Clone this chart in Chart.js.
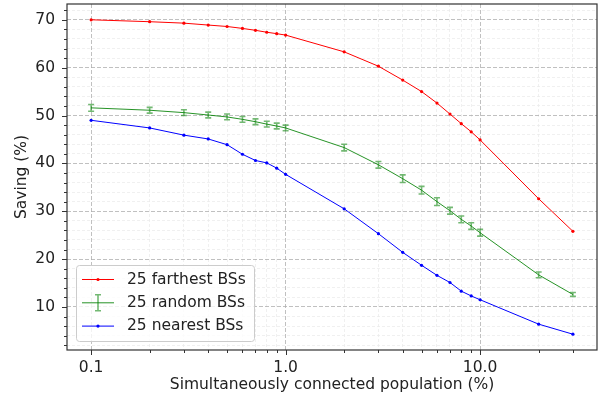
<!DOCTYPE html>
<html>
<head>
<meta charset="utf-8">
<script src="https://cdn.jsdelivr.net/npm/chart.js@4/dist/chart.umd.min.js"></script>
<style>
  body { margin: 0; background: #fff; }
  canvas { display: block; }
</style>
</head>
<body>
<canvas id="savingCanvas" width="601" height="404"></canvas>
<script>
// x values (% of population), log scale
const population = [0.1, 0.2, 0.3, 0.4, 0.5, 0.6, 0.7, 0.8, 0.9, 1, 2, 3, 4, 5, 6, 7, 8, 9, 10, 20, 30];
const farthest = [70.0, 69.6, 69.3, 68.9, 68.6, 68.2, 67.8, 67.4, 67.1, 66.8, 63.3, 60.3, 57.4, 55.0, 52.6, 50.3, 48.3, 46.6, 44.9, 32.6, 25.8];
const random = [51.6, 51.1, 50.6, 50.1, 49.7, 49.2, 48.7, 48.2, 47.8, 47.4, 43.3, 39.7, 36.8, 34.4, 32.0, 30.1, 28.3, 26.9, 25.5, 16.7, 12.6];
const randomErr = [0.7, 0.6, 0.6, 0.6, 0.6, 0.6, 0.6, 0.6, 0.6, 0.6, 0.7, 0.7, 0.8, 0.8, 0.8, 0.7, 0.7, 0.7, 0.7, 0.6, 0.4];
const nearest = [49.0, 47.4, 45.9, 45.1, 43.9, 41.9, 40.6, 40.1, 39.0, 37.7, 30.5, 25.3, 21.4, 18.7, 16.6, 15.1, 13.3, 12.3, 11.5, 6.4, 4.3];
const seriesNames = ['25 farthest BSs', '25 random BSs', '25 nearest BSs'];

// tick positions
const xTicks = [0.1, 0.2, 0.3, 0.4, 0.5, 0.6, 0.7, 0.8, 0.9, 1, 2, 3, 4, 5, 6, 7, 8, 9, 10, 20, 30];
const yTicks = [2, 4, 6, 8, 10, 12, 14, 16, 18, 20, 22, 24, 26, 28, 30, 32, 34, 36, 38, 40, 42, 44, 46, 48, 50, 52, 54, 56, 58, 60, 62, 64, 66, 68, 70, 72];

const RED = '#ff0000';
const GREEN = 'rgba(0,128,0,0.85)';
const GREEN_ERR = 'rgba(0,128,0,0.55)';
const BLUE = '#0000ff';
const FONT = 'DejaVu Sans';

const isDecade = v => Math.abs(Math.log10(v) - Math.round(Math.log10(v))) < 1e-6;
const isMajorY = v => v % 10 === 0;

const toPoints = ys => population.map((x, i) => ({ x: x, y: ys[i] }));

// error bars + frame + ticks + legend
const extras = {
  id: 'extras',
  afterDatasetsDraw(chart) {
    const ctx = chart.ctx;
    const xs = chart.scales.x, ys = chart.scales.y;
    const area = chart.chartArea;
    ctx.save();
    ctx.beginPath();
    ctx.rect(area.left, area.top, area.right - area.left, area.bottom - area.top);
    ctx.clip();
    ctx.strokeStyle = GREEN_ERR;
    ctx.lineWidth = 1.6;
    population.forEach((x, i) => {
      const px = xs.getPixelForValue(x);
      const top = ys.getPixelForValue(random[i] + randomErr[i]);
      const bot = ys.getPixelForValue(random[i] - randomErr[i]);
      ctx.beginPath();
      ctx.moveTo(px, top); ctx.lineTo(px, bot);
      ctx.moveTo(px - 3, top); ctx.lineTo(px + 3, top);
      ctx.moveTo(px - 3, bot); ctx.lineTo(px + 3, bot);
      ctx.stroke();
    });
    ctx.restore();
  },
  afterDraw(chart) {
    const ctx = chart.ctx;
    const xs = chart.scales.x, ys = chart.scales.y;
    const a = chart.chartArea;
    ctx.save();
    // tick marks
    ctx.strokeStyle = '#333';
    ctx.lineWidth = 1;
    xTicks.forEach(v => {
      const px = Math.round(xs.getPixelForValue(v)) + 0.5;
      const len = isDecade(v) ? 5 : 3;
      ctx.beginPath(); ctx.moveTo(px, a.bottom); ctx.lineTo(px, a.bottom + len); ctx.stroke();
    });
    yTicks.forEach(v => {
      const py = Math.round(ys.getPixelForValue(v)) + 0.5;
      const len = isMajorY(v) ? 5 : 3;
      ctx.beginPath(); ctx.moveTo(a.left, py); ctx.lineTo(a.left - len, py); ctx.stroke();
    });
    // frame
    ctx.strokeStyle = '#333';
    ctx.lineWidth = 1.2;
    ctx.strokeRect(a.left, a.top, a.right - a.left, a.bottom - a.top);

    // legend
    const lx = 76, ly = 265, lw = 178, lh = 76;
    ctx.beginPath();
    ctx.roundRect(lx + 0.5, ly + 0.5, lw, lh, 3);
    ctx.fillStyle = 'rgba(255,255,255,0.8)';
    ctx.fill();
    ctx.strokeStyle = '#cccccc';
    ctx.lineWidth = 1;
    ctx.stroke();

    const colors = [RED, GREEN, BLUE];
    ctx.font = '15.5px "' + FONT + '"';
    ctx.textBaseline = 'middle';
    ctx.fillStyle = '#222';
    seriesNames.forEach((name, i) => {
      const ry = 279.5 + i * 23.3;
      ctx.strokeStyle = colors[i];
      ctx.lineWidth = 1;
      ctx.beginPath(); ctx.moveTo(82, ry); ctx.lineTo(114, ry); ctx.stroke();
      if (i === 1) {
        ctx.strokeStyle = GREEN_ERR;
        ctx.lineWidth = 1.6;
        ctx.beginPath();
        ctx.moveTo(98, ry - 8); ctx.lineTo(98, ry + 8);
        ctx.moveTo(95, ry - 8); ctx.lineTo(101, ry - 8);
        ctx.moveTo(95, ry + 8); ctx.lineTo(101, ry + 8);
        ctx.stroke();
      } else {
        ctx.fillStyle = colors[i];
        ctx.beginPath(); ctx.arc(98, ry, 1.6, 0, Math.PI * 2); ctx.fill();
      }
      ctx.fillStyle = '#222';
      ctx.fillText(name, 127, ry);
    });
    ctx.restore();
  }
};

const gridColor = major => major ? '#b0b0b0' : '#ececec';

const savingChart = new Chart(document.getElementById('savingCanvas'), {
  type: 'line',
  data: {
    datasets: [{
      label: seriesNames[0],
      data: toPoints(farthest),
      borderColor: RED,
      backgroundColor: RED,
      borderWidth: 1,
      pointRadius: 1.6,
      pointBorderWidth: 0
    }, {
      label: seriesNames[1],
      data: toPoints(random),
      borderColor: GREEN,
      backgroundColor: GREEN,
      borderWidth: 1,
      pointRadius: 0
    }, {
      label: seriesNames[2],
      data: toPoints(nearest),
      borderColor: BLUE,
      backgroundColor: BLUE,
      borderWidth: 1,
      pointRadius: 1.6,
      pointBorderWidth: 0
    }]
  },
  options: {
    responsive: false,
    animation: false,
    layout: { padding: { left: 0, right: 1, top: 3, bottom: 0 } },
    plugins: {
      legend: { display: false },
      tooltip: { enabled: false }
    },
    scales: {
      x: {
        type: 'logarithmic',
        min: 0.07516,
        max: 39.9,
        afterBuildTicks: scale => { scale.ticks = xTicks.map(v => ({ value: v, major: isDecade(v) })); },
        afterFit: scale => {
          scale.height = 54;
          scale.paddingLeft = 0;
          scale.paddingRight = 0;
        },
        ticks: {
          autoSkip: false,
          maxRotation: 0,
          padding: 9,
          color: '#222',
          font: { family: FONT, size: 15.5 },
          callback: v => isDecade(v) ? v.toFixed(1) : ''
        },
        grid: {
          drawTicks: false,
          lineWidth: 0.8,
          color: c => gridColor(isDecade(c.tick.value))
        },
        border: {
          display: false,
          dash: c => c.tick && isDecade(c.tick.value) ? [4, 2] : [3, 2]
        },
        title: {
          display: true,
          text: 'Simultaneously connected population (%)',
          color: '#222',
          font: { family: FONT, size: 15.5 },
          padding: { top: 0, bottom: 10 }
        }
      },
      y: {
        type: 'linear',
        min: 1.0,
        max: 73.3,
        afterBuildTicks: scale => { scale.ticks = yTicks.map(v => ({ value: v, major: isMajorY(v) })); },
        afterFit: scale => {
          scale.width = 67;
          scale.paddingTop = 0;
          scale.paddingBottom = 0;
        },
        ticks: {
          autoSkip: false,
          padding: 12,
          color: '#222',
          font: { family: FONT, size: 15.5 },
          callback: v => isMajorY(v) ? String(v) : ''
        },
        grid: {
          drawTicks: false,
          lineWidth: 0.8,
          color: c => gridColor(isMajorY(c.tick.value))
        },
        border: {
          display: false,
          dash: c => c.tick && isMajorY(c.tick.value) ? [4, 2] : [3, 2]
        },
        title: {
          display: true,
          text: 'Saving (%)',
          color: '#222',
          font: { family: FONT, size: 15.5 },
          padding: { top: 13, bottom: 0 }
        }
      }
    }
  },
  plugins: [extras]
});
</script>
</body>
</html>
